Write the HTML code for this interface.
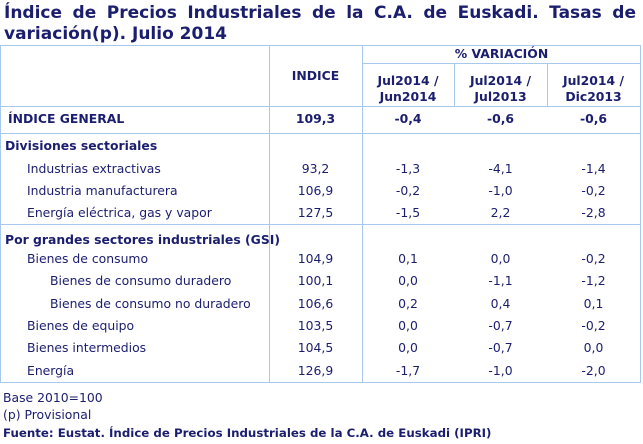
<!DOCTYPE html>
<html><head><meta charset="utf-8"><style>
body{margin:0;background:#fff;width:643px;height:444px;position:relative;overflow:hidden;font-family:"DejaVu Sans","Liberation Sans",sans-serif;color:#1b1e6e;}
.t{position:absolute;white-space:nowrap;font-size:12.4px;line-height:14px;}
.f{font-size:11.8px;}
.b{font-weight:bold;}
.title{position:absolute;left:4px;top:3px;width:632px;font-size:17px;font-weight:bold;line-height:21px;text-align:justify;text-align-last:left;color:#1b1e6e;}
.h{position:absolute;background:#a9c9ec;height:1px;}
.v{position:absolute;background:#a9c9ec;width:1px;}
.c{text-align:center;}
</style></head><body>
<div class="title">Índice de Precios Industriales de la C.A. de Euskadi. Tasas de variación(p). Julio 2014</div>
<div class="h" style="left:0;top:45px;width:641px"></div>
<div class="h" style="left:362px;top:63px;width:279px"></div>
<div class="h" style="left:0;top:106px;width:641px"></div>
<div class="h" style="left:0;top:133px;width:641px"></div>
<div class="h" style="left:0;top:224px;width:641px"></div>
<div class="h" style="left:0;top:382px;width:641px"></div>
<div class="v" style="left:0;top:45px;height:338px"></div>
<div class="v" style="left:640px;top:45px;height:338px"></div>
<div class="v" style="left:269px;top:45px;height:338px"></div>
<div class="v" style="left:362px;top:45px;height:338px"></div>
<div class="v" style="left:454px;top:63px;height:44px"></div>
<div class="v" style="left:547px;top:63px;height:44px"></div>

<div class="t b c" style="left:362px;width:279px;top:47px">% VARIACIÓN</div>
<div class="t b c" style="left:269px;width:93px;top:69px">INDICE</div>
<div class="t b c" style="left:362px;width:92px;top:73px;line-height:16px">Jul2014 /<br>Jun2014</div>
<div class="t b c" style="left:454px;width:93px;top:73px;line-height:16px">Jul2014 /<br>Jul2013</div>
<div class="t b c" style="left:547px;width:93px;top:73px;line-height:16px">Jul2014 /<br>Dic2013</div>

<div class="t b" style="left:8px;top:112px">ÍNDICE GENERAL</div>
<div class="t b c" style="left:269px;width:93px;top:112px">109,3</div>
<div class="t b c" style="left:362px;width:92px;top:112px">-0,4</div>
<div class="t b c" style="left:454px;width:93px;top:112px">-0,6</div>
<div class="t b c" style="left:547px;width:93px;top:112px">-0,6</div>

<div class="t b" style="left:5px;top:139px">Divisiones sectoriales</div>
<div class="t b" style="left:5px;top:233px">Por grandes sectores industriales (GSI)</div>

<div class="t" style="left:27px;top:162px">Industrias extractivas</div>
<div class="t" style="left:27px;top:184px">Industria manufacturera</div>
<div class="t" style="left:27px;top:206px">Energía eléctrica, gas y vapor</div>
<div class="t" style="left:27px;top:252px">Bienes de consumo</div>
<div class="t" style="left:50px;top:274px">Bienes de consumo duradero</div>
<div class="t" style="left:50px;top:297px">Bienes de consumo no duradero</div>
<div class="t" style="left:27px;top:319px">Bienes de equipo</div>
<div class="t" style="left:27px;top:341px">Bienes intermedios</div>
<div class="t" style="left:27px;top:364px">Energía</div>

<div class="t c" style="left:269px;width:93px;top:162px">93,2</div>
<div class="t c" style="left:362px;width:92px;top:162px">-1,3</div>
<div class="t c" style="left:454px;width:93px;top:162px">-4,1</div>
<div class="t c" style="left:547px;width:93px;top:162px">-1,4</div>

<div class="t c" style="left:269px;width:93px;top:184px">106,9</div>
<div class="t c" style="left:362px;width:92px;top:184px">-0,2</div>
<div class="t c" style="left:454px;width:93px;top:184px">-1,0</div>
<div class="t c" style="left:547px;width:93px;top:184px">-0,2</div>

<div class="t c" style="left:269px;width:93px;top:206px">127,5</div>
<div class="t c" style="left:362px;width:92px;top:206px">-1,5</div>
<div class="t c" style="left:454px;width:93px;top:206px">2,2</div>
<div class="t c" style="left:547px;width:93px;top:206px">-2,8</div>

<div class="t c" style="left:269px;width:93px;top:252px">104,9</div>
<div class="t c" style="left:362px;width:92px;top:252px">0,1</div>
<div class="t c" style="left:454px;width:93px;top:252px">0,0</div>
<div class="t c" style="left:547px;width:93px;top:252px">-0,2</div>

<div class="t c" style="left:269px;width:93px;top:274px">100,1</div>
<div class="t c" style="left:362px;width:92px;top:274px">0,0</div>
<div class="t c" style="left:454px;width:93px;top:274px">-1,1</div>
<div class="t c" style="left:547px;width:93px;top:274px">-1,2</div>

<div class="t c" style="left:269px;width:93px;top:297px">106,6</div>
<div class="t c" style="left:362px;width:92px;top:297px">0,2</div>
<div class="t c" style="left:454px;width:93px;top:297px">0,4</div>
<div class="t c" style="left:547px;width:93px;top:297px">0,1</div>

<div class="t c" style="left:269px;width:93px;top:319px">103,5</div>
<div class="t c" style="left:362px;width:92px;top:319px">0,0</div>
<div class="t c" style="left:454px;width:93px;top:319px">-0,7</div>
<div class="t c" style="left:547px;width:93px;top:319px">-0,2</div>

<div class="t c" style="left:269px;width:93px;top:341px">104,5</div>
<div class="t c" style="left:362px;width:92px;top:341px">0,0</div>
<div class="t c" style="left:454px;width:93px;top:341px">-0,7</div>
<div class="t c" style="left:547px;width:93px;top:341px">0,0</div>

<div class="t c" style="left:269px;width:93px;top:364px">126,9</div>
<div class="t c" style="left:362px;width:92px;top:364px">-1,7</div>
<div class="t c" style="left:454px;width:93px;top:364px">-1,0</div>
<div class="t c" style="left:547px;width:93px;top:364px">-2,0</div>

<div class="t" style="left:3px;top:391px">Base 2010=100</div>
<div class="t" style="left:3px;top:408px">(p) Provisional</div>
<div class="t b f" style="left:3px;top:426px">Fuente: Eustat. Índice de Precios Industriales de la C.A. de Euskadi (IPRI)</div>
</body></html>
